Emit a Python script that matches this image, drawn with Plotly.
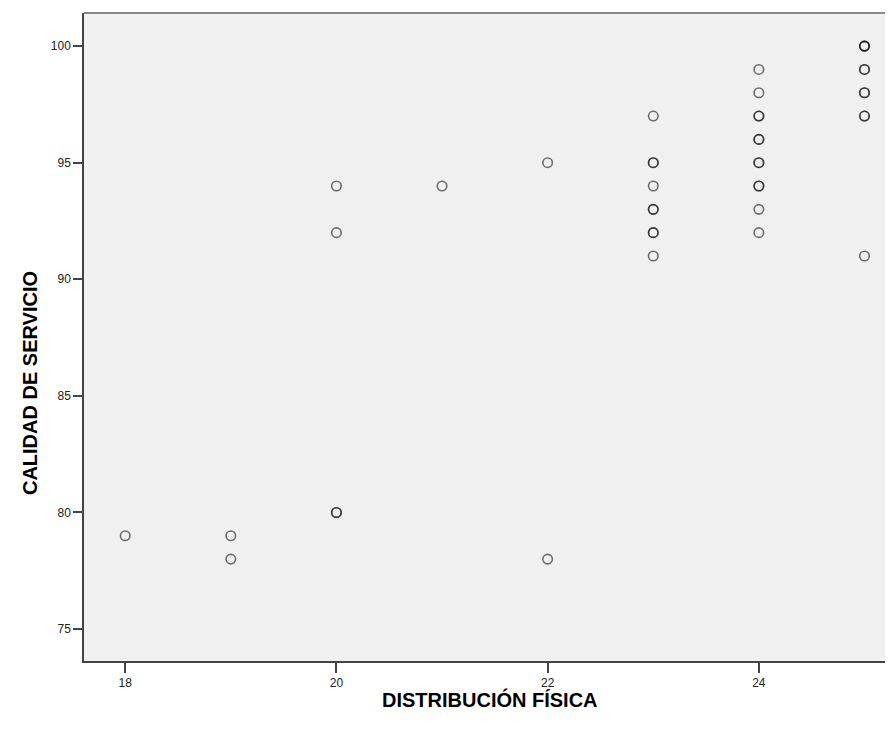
import plotly.graph_objects as go

# x value, y value, number of overlapping cases
dist_fisica = [18, 19, 19, 20, 20, 20, 21, 22, 22,
               23, 23, 23, 23, 23, 23,
               24, 24, 24, 24, 24, 24, 24, 24,
               25, 25, 25, 25, 25]
calidad = [79, 79, 78, 94, 92, 80, 94, 95, 78,
           97, 95, 94, 93, 92, 91,
           99, 98, 97, 96, 95, 94, 93, 92,
           100, 99, 98, 97, 91]
casos = [1, 1, 1, 1, 1, 2, 1, 1, 1,
         1, 2, 1, 2, 2, 1,
         1, 1, 2, 2, 2, 2, 1, 1,
         3, 2, 2, 2, 1]

xs, ys = [], []
for x, y, n in zip(dist_fisica, calidad, casos):
    for _ in range(n):
        xs.append(x)
        ys.append(y)

x_ticks = [18, 20, 22, 24]
y_ticks = [75, 80, 85, 90, 95, 100]

fig = go.Figure()
fig.add_trace(go.Scatter(
    x=xs, y=ys, mode="markers",
    marker=dict(symbol="circle-open", size=9.5,
                color="rgba(20,20,20,0.6)",
                line=dict(width=1.6, color="rgba(20,20,20,0.6)")),
    hoverinfo="x+y", showlegend=False))

fig.update_layout(
    width=885, height=730,
    margin=dict(l=76, r=0, t=5, b=77),
    paper_bgcolor="white", plot_bgcolor="#F0F0F0",
    font=dict(family="Liberation Sans, Arial, sans-serif", size=12, color="#222"),
    xaxis=dict(range=[17.61, 25.27], tickvals=x_ticks, showgrid=False, zeroline=False,
               showline=True, linecolor="#444", linewidth=1.5,
               ticks="outside", ticklen=10, tickwidth=1.5, tickcolor="#444",
               tickfont=dict(size=12, color="#222")),
    yaxis=dict(range=[73.63, 101.42], tickvals=y_ticks, showgrid=False, zeroline=False,
               showline=True, linecolor="#444", linewidth=1.5,
               ticks="outside", ticklen=9, tickwidth=1.5, tickcolor="#444",
               tickfont=dict(size=12, color="#222")),
    shapes=[dict(type="line", xref="paper", yref="paper", x0=0, x1=1, y0=1, y1=1,
                 line=dict(color="#8a8a8a", width=2))],
    annotations=[
        dict(text="<b>DISTRIBUCIÓN FÍSICA</b>", xref="paper", yref="paper",
             x=0.502, y=-0.060, showarrow=False, xanchor="center", yanchor="middle",
             font=dict(size=20, color="#000")),
        dict(text="<b>CALIDAD DE SERVICIO</b>", xref="paper", yref="paper",
             x=-0.0667, y=0.429, showarrow=False, xanchor="center", yanchor="middle",
             textangle=-90, font=dict(size=20, color="#000")),
    ],
)

fig.write_html("out.html")
